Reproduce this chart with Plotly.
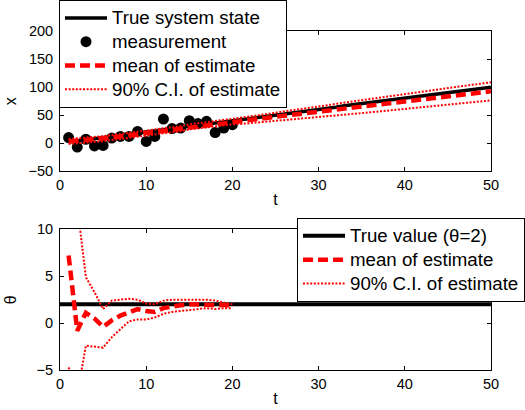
import plotly.graph_objects as go

# ---------------- data ----------------
t_meas = list(range(1, 21))
measurement = [10, -7, 7, -5, -4, 9, 12, 12, 21, 3, 12, 43, 26, 27, 40, 35, 39, 19, 27, 33]

t_state = list(range(1, 51))
true_state = [2, 4, 6, 7, 9, 11, 13, 15, 17, 19, 21, 23, 25, 27, 29, 31, 33, 35, 37, 39,
              41, 43, 45, 47, 49, 51, 53, 55, 57, 60, 62, 64, 67, 69, 71, 73, 75, 77, 79, 81,
              83, 85, 86, 88, 90, 92, 94, 96, 98, 100]
mean_x = [3, 4, 6, 7, 8, 10, 12, 14, 16, 17, 19, 22, 24, 26, 29, 31, 33, 34, 36, 38,
          39.8, 41.6, 43.5, 45.3, 47.1, 48.9, 50.7, 52.6, 54.4, 56.2, 58.0, 59.8, 61.7, 63.5, 65.3,
          67.1, 68.9, 70.8, 72.6, 74.4, 76.2, 78.0, 79.9, 81.7, 83.5, 85.3, 87.1, 89.0, 90.8, 92.6]
upper_x = [7.5, 8.5, 10.5, 11.5, 12.5, 14.5, 16.5, 18.5, 20.5, 21.5, 23.5, 26.5, 28.5, 30.5, 33.5,
           35.5, 37.5, 38.5, 40.5, 42.5,
           45.3, 47.6, 50.0, 52.3, 54.6, 56.9, 59.1, 61.4, 63.6, 65.8, 68.0, 70.2, 72.5, 74.7, 76.9,
           79.1, 81.2, 83.4, 85.5, 87.6, 89.7, 91.8, 94.0, 96.1, 98.2, 100.3, 102.4, 104.6, 106.7, 108.8]
lower_x = [-1.5, -0.5, 1.5, 2.5, 3.5, 5.5, 7.5, 9.5, 11.5, 12.5, 14.5, 17.5, 19.5, 21.5, 24.5,
           26.5, 28.5, 29.5, 31.5, 33.5,
           34.3, 35.6, 37.0, 38.3, 39.6, 40.9, 42.3, 43.8, 45.2, 46.6, 48.0, 49.4, 50.9, 52.3, 53.7,
           55.1, 56.6, 58.2, 59.7, 61.2, 62.7, 64.2, 65.8, 67.3, 68.8, 70.3, 71.8, 73.4, 74.9, 76.4]

t_theta = list(range(1, 21))
theta_true = 2
theta_span = [0, 50]
mean_theta = [7.2, -0.8, 1.1, 0.5, -0.4, 0.3, 0.8, 1.2, 1.5, 1.3, 1.2, 1.6, 1.8, 1.9, 2.0, 2.0, 2.0, 2.0, 1.9, 1.9]
upper_theta = [19.3, 12.5, 4.9, 3.3, 1.5, 2.4, 2.5, 2.6, 2.5, 2.1, 2.0, 2.4, 2.5, 2.5, 2.5, 2.5, 2.5, 2.4, 2.2, 2.0]
lower_theta = [-4.7, -7.6, -2.4, -2.5, -2.6, -1.5, -0.6, 0.2, 0.4, 0.4, 0.6, 1.0, 1.2, 1.3, 1.45, 1.5, 1.6, 1.5, 1.6, 1.6]

x_ticks = [0, 10, 20, 30, 40, 50]
y1_ticks = [-50, 0, 50, 100, 150, 200]
y2_ticks = [-5, 0, 5, 10]

# ---------------- figure ----------------
RED = "rgb(255,0,0)"
DASH = "10px,5px"
DOT = "2px,1.6px"
FONT = "Liberation Sans, Arial, sans-serif"


def big(s):
    return '<span style="font-size:18.7px">' + s + "</span>"


fig = go.Figure()

# top panel
fig.add_trace(go.Scatter(x=t_state, y=true_state, mode="lines", name=big("True system state"),
                         line=dict(color="black", width=3.5), legend="legend", xaxis="x", yaxis="y"))
fig.add_trace(go.Scatter(x=t_meas, y=measurement, mode="markers", name=big("measurement"),
                         marker=dict(color="black", size=11), legend="legend", xaxis="x", yaxis="y"))
fig.add_trace(go.Scatter(x=t_state, y=mean_x, mode="lines", name=big("mean of estimate"),
                         line=dict(color=RED, width=4.5, dash=DASH), legend="legend", xaxis="x", yaxis="y"))
fig.add_trace(go.Scatter(x=t_state, y=upper_x, mode="lines", name=big("90% C.I. of estimate"),
                         line=dict(color=RED, width=2, dash=DOT), legend="legend", xaxis="x", yaxis="y"))
fig.add_trace(go.Scatter(x=t_state, y=lower_x, mode="lines", name=big("90% C.I. of estimate"),
                         line=dict(color=RED, width=2, dash=DOT), showlegend=False, xaxis="x", yaxis="y"))

# bottom panel
fig.add_trace(go.Scatter(x=theta_span, y=[theta_true] * len(theta_span), mode="lines",
                         name=big("True value (\u03b8=2)"), line=dict(color="black", width=4),
                         legend="legend2", xaxis="x2", yaxis="y2"))
fig.add_trace(go.Scatter(x=t_theta, y=mean_theta, mode="lines", name=big("mean of estimate"),
                         line=dict(color=RED, width=4.5, dash=DASH), legend="legend2", xaxis="x2", yaxis="y2"))
fig.add_trace(go.Scatter(x=t_theta, y=upper_theta, mode="lines", name=big("90% C.I. of estimate"),
                         line=dict(color=RED, width=2, dash=DOT), legend="legend2", xaxis="x2", yaxis="y2"))
fig.add_trace(go.Scatter(x=t_theta, y=lower_theta, mode="lines", name=big("90% C.I. of estimate"),
                         line=dict(color=RED, width=2, dash=DOT), showlegend=False, xaxis="x2", yaxis="y2"))

axis_common = dict(showline=True, linecolor="black", linewidth=1, mirror="ticks",
                   ticks="inside", ticklen=4, tickcolor="black", showgrid=False, zeroline=False,
                   tickfont=dict(family=FONT, size=14.5, color="black"), automargin=False)

fig.update_layout(
    width=525, height=410,
    margin=dict(l=0, r=0, t=0, b=0),
    paper_bgcolor="white", plot_bgcolor="white",
    font=dict(family=FONT, color="black"),
    xaxis=dict(domain=[0.1143, 0.9352], range=[0, 50], tickvals=x_ticks, anchor="y",
               title=dict(text="t", font=dict(size=16), standoff=2), **axis_common),
    yaxis=dict(domain=[0.5854, 0.9285], range=[-50, 200], tickvals=y1_ticks, anchor="x",
               ticklabelstandoff=3,
               title=dict(text="x", font=dict(size=16), standoff=7), **axis_common),
    xaxis2=dict(domain=[0.1143, 0.9352], range=[0, 50], tickvals=x_ticks, anchor="y2",
                title=dict(text="t", font=dict(size=16), standoff=2), **axis_common),
    yaxis2=dict(domain=[0.0976, 0.4432], range=[-5, 10], tickvals=y2_ticks, anchor="x2",
                ticklabelstandoff=3,
                title=dict(text="\u03b8", font=dict(size=16), standoff=15), **axis_common),
    legend=dict(x=59 / 525, y=1.006, xanchor="left", yanchor="top", bgcolor="white",
                bordercolor="black", borderwidth=1, font=dict(size=16, family=FONT),
                tracegroupgap=0, itemwidth=42),
    legend2=dict(x=297 / 525, y=(410 - 217) / 410, xanchor="left", yanchor="top", bgcolor="white",
                 bordercolor="black", borderwidth=1, font=dict(size=16, family=FONT),
                 tracegroupgap=0, itemwidth=42),
    showlegend=True,
)

fig.write_html("out.html", config={"displayModeBar": False},
               post_script="document.body.style.margin='0';document.body.style.padding='0';")
